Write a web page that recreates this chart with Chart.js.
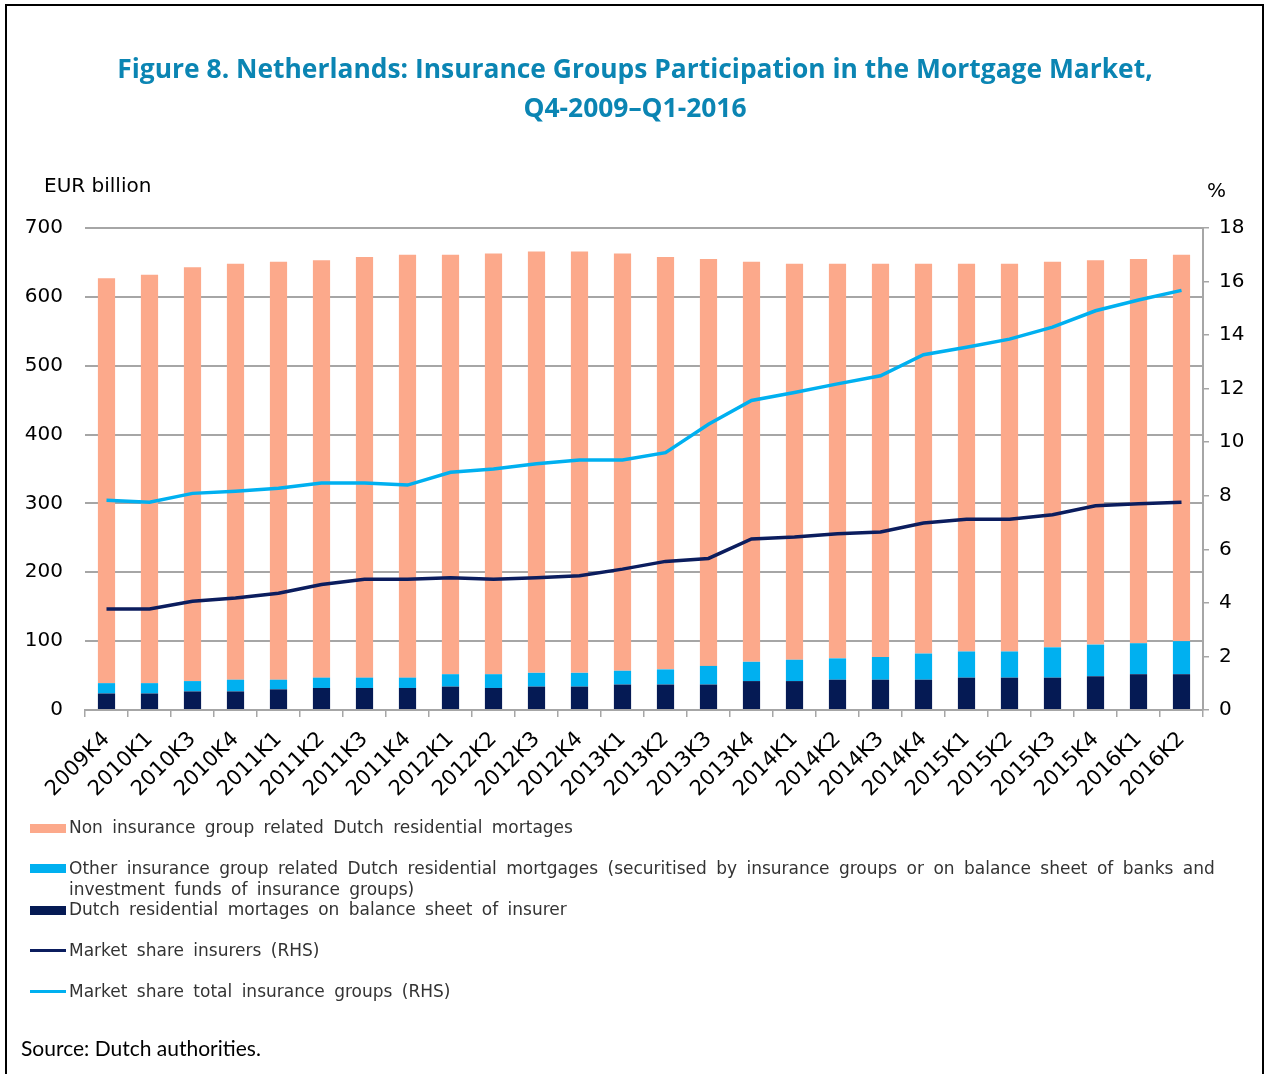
<!DOCTYPE html>
<html>
<head>
<meta charset="utf-8">
<script src="https://cdn.jsdelivr.net/npm/chart.js@4"></script>
<style>
  html, body { margin: 0; padding: 0; background: #fff; overflow: hidden; }
  #wrap { position: relative; width: 1264px; height: 1074px; }
  #frame { position: absolute; left: 5px; top: 4px; width: 1255px; height: 1080px;
           border: 2px solid #000; border-bottom: none; }
  canvas { position: absolute; left: 0; top: 0; }
  .title { position: absolute; left: 0; width: 1270px; text-align: center;
           font: bold 26.4px "Open Sans", sans-serif; color: #0b85b3; }
  .unit { position: absolute; font: 20px "DejaVu Sans", sans-serif; color: #000; }
  .leg { position: absolute; left: 69px; width: 1170px; font: 17px "DejaVu Sans", sans-serif;
         color: #333; word-spacing: 4px; line-height: 21px; }
  .sw { position: absolute; left: 30px; width: 36px; }
  .src { position: absolute; left: 21px; top: 1035px; font: 21px Lato, sans-serif; color: #000; }
</style>
</head>
<body>
<div id="wrap">
  <div id="frame"></div>
  <canvas id="chart" width="1264" height="1074"></canvas>
  <div class="title" style="top:50px">Figure 8. Netherlands: Insurance Groups Participation in the Mortgage Market,</div>
  <div class="title" style="top:89px">Q4-2009–Q1-2016</div>
  <div class="unit" style="left:44px; top:173px">EUR billion</div>
  <div class="unit" style="left:1207px; top:178px">%</div>

  <div class="sw" style="top:824px; height:9px; background:#fca98b"></div>
  <div class="leg" style="top:817px">Non insurance group related Dutch residential mortages</div>
  <div class="sw" style="top:864px; height:9px; background:#00b0f0"></div>
  <div class="leg" style="top:858px">Other insurance group related Dutch residential mortgages (securitised by insurance groups or on balance sheet of banks and investment funds of insurance groups)</div>
  <div class="sw" style="top:906px; height:9px; background:#051a54"></div>
  <div class="leg" style="top:899px">Dutch residential mortages on balance sheet of insurer</div>
  <div class="sw" style="top:949px; height:3px; background:#0b1d5e"></div>
  <div class="leg" style="top:940px">Market share insurers (RHS)</div>
  <div class="sw" style="top:990px; height:3px; background:#00b0f0"></div>
  <div class="leg" style="top:981px">Market share total insurance groups (RHS)</div>

  <div class="src">Source: Dutch authorities.</div>
</div>
<script>
// quarters
const quarters = ['2009K4','2010K1','2010K3','2010K4','2011K1','2011K2','2011K3','2011K4','2012K1','2012K2','2012K3','2012K4','2013K1','2013K2','2013K3','2013K4','2014K1','2014K2','2014K3','2014K4','2015K1','2015K2','2015K3','2015K4','2016K1','2016K2'];

// EUR billion
const onBalanceInsurer = [24, 24, 27, 27, 30, 32, 32, 32, 34, 32, 34, 34, 37, 37, 37, 42, 42, 44, 44, 44, 47, 47, 47, 49, 52, 52];
const otherInsGroup = [15, 15, 15, 17, 14, 15, 15, 15, 18, 20, 20, 20, 20, 22, 27, 28, 31, 31, 33, 38, 38, 38, 44, 46, 45, 48];
const nonInsGroup = [588, 593, 601, 604, 607, 606, 611, 614, 609, 611, 612, 612, 606, 599, 591, 581, 575, 573, 571, 566, 563, 563, 560, 558, 558, 561];

// percent (RHS)
const shareInsurers = [3.77, 3.77, 4.06, 4.18, 4.36, 4.69, 4.88, 4.88, 4.94, 4.88, 4.94, 5.01, 5.26, 5.55, 5.66, 6.39, 6.46, 6.58, 6.65, 6.98, 7.12, 7.12, 7.29, 7.63, 7.70, 7.76];
const shareTotalGroups = [7.83, 7.76, 8.09, 8.17, 8.28, 8.48, 8.48, 8.40, 8.88, 9.00, 9.20, 9.34, 9.34, 9.61, 10.67, 11.56, 11.86, 12.18, 12.48, 13.27, 13.55, 13.85, 14.30, 14.91, 15.31, 15.67];

const gridGrey = '#a6a6a6';
const tickFont = { family: 'DejaVu Sans', size: 20 };

new Chart(document.getElementById('chart'), {
    type: 'bar',
    data: {
        labels: quarters,
        datasets: [
            { label: 'Dutch residential mortages on balance sheet of insurer', data: onBalanceInsurer, backgroundColor: '#051a54', yAxisID: 'y', order: 2 },
            { label: 'Other insurance group related', data: otherInsGroup, backgroundColor: '#00b0f0', yAxisID: 'y', order: 2 },
            { label: 'Non insurance group related', data: nonInsGroup, backgroundColor: '#fca98b', yAxisID: 'y', order: 2 },
            { type: 'line', label: 'Market share insurers (RHS)', data: shareInsurers, borderColor: '#0b1d5e', borderWidth: 3.5,
              pointRadius: 0, tension: 0, yAxisID: 'y1', order: 1 },
            { type: 'line', label: 'Market share total insurance groups (RHS)', data: shareTotalGroups, borderColor: '#00b0f0', borderWidth: 3.5,
              pointRadius: 0, tension: 0, yAxisID: 'y1', order: 0 }
        ]
    },
    options: {
        responsive: false,
        animation: false,
        layout: { padding: { top: 228, left: 0, right: 0, bottom: 0 } },
        plugins: { legend: { display: false }, tooltip: { enabled: false } },
        datasets: { bar: { categoryPercentage: 1, barPercentage: 0.4 } },
        scales: {
            x: {
                stacked: true,
                grid: { display: true, drawOnChartArea: false, drawTicks: true, tickLength: 7, color: gridGrey, lineWidth: 1.5 },
                border: { display: true, color: gridGrey, width: 2 },
                ticks: { color: '#000', font: { family: 'DejaVu Sans', size: 21 }, minRotation: 45, maxRotation: 45, autoSkip: false, padding: 10 },
                afterFit: s => { s.height = 364; }
            },
            y: {
                stacked: true, min: 0, max: 700,
                grid: { color: gridGrey, lineWidth: 2, drawTicks: false },
                border: { display: false },
                ticks: { stepSize: 100, color: '#000', font: tickFont, padding: 22 },
                afterFit: s => { s.width = 85; }
            },
            y1: {
                position: 'right', min: 0, max: 18,
                grid: { drawOnChartArea: false, drawTicks: true, tickLength: 6, color: gridGrey, lineWidth: 1.5 },
                border: { display: true, color: gridGrey, width: 2 },
                ticks: { stepSize: 2, color: '#000', font: tickFont, padding: 10 },
                afterFit: s => { s.width = 61; }
            }
        }
    }
});
</script>
</body>
</html>
